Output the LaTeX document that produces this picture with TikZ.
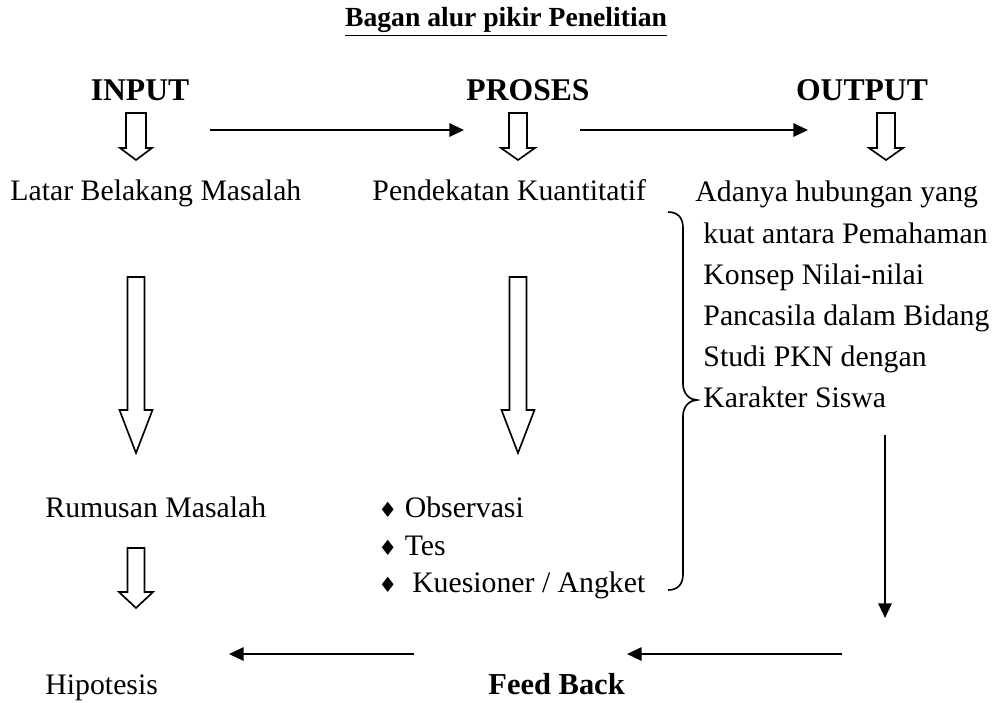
\documentclass[tikz,border=0pt]{standalone}
\usepackage{fontspec}
\setmainfont{Liberation Serif}
\newfontfamily\symfont{DejaVu Sans}
\usetikzlibrary{arrows.meta}

% hollow down arrow: x, top, head base, apex, half shaft, half head
\newcommand{\hollowdown}[6]{%
  \draw[hollow] (#1-#5,#2) -- (#1+#5,#2) -- (#1+#5,#3) -- (#1+#6,#3) -- (#1,#4)
    -- (#1-#6,#3) -- (#1-#5,#3) -- cycle;}
\newcommand{\bul}{{\symfont\fontsize{9}{9}\selectfont\char"2666}}

\begin{document}
\begin{tikzpicture}[
    x=0.015cm, y=-0.015cm,
    txt/.style={anchor=base west, inner sep=0pt, font=\fontsize{12.7}{15}\selectfont},
    hdr/.style={anchor=base, inner sep=0pt, font=\fontsize{13.5}{15}\selectfont\bfseries},
    hollow/.style={line width=0.7pt, fill=white},
    arrow/.style={-{Triangle[length=0.22cm, width=0.2cm]}, line width=0.9pt}
]
    \useasboundingbox (0,0) rectangle (995,702);

    % Title
    \node[hdr, font=\fontsize{11.8}{14}\selectfont\bfseries] (title) at (506,26) {\underline{Bagan alur pikir Penelitian}};

    % Headers
    \node[hdr] (input) at (140,100) {INPUT};
    \node[hdr] (proses) at (528,100) {PROSES};
    \node[hdr] (output) at (862,100) {OUTPUT};

    \hollowdown{136}{113}{148}{160}{10}{16}
    \hollowdown{518}{113}{148}{160}{9}{17}
    \hollowdown{886}{113}{148}{160}{9}{17}

    \coordinate (a1s) at (210,130);
    \coordinate (a1e) at (464,130);
    \coordinate (a2s) at (580,130);
    \coordinate (a2e) at (808,130);
    \draw[arrow] (a1s) -- (a1e);
    \draw[arrow] (a2s) -- (a2e);

    % Second row
    \node[txt] (latar) at (10,200) {Latar Belakang Masalah};
    \node[txt] (pendekatan) at (372,200) {Pendekatan Kuantitatif};
    \node[txt] (out1) at (695,201) {Adanya hubungan yang};
    \node[txt] (out2) at (703,243) {kuat antara Pemahaman};
    \node[txt] (out3) at (703,284) {Konsep Nilai-nilai};
    \node[txt] (out4) at (703,325) {Pancasila dalam Bidang};
    \node[txt] (out5) at (703,366) {Studi PKN dengan};
    \node[txt] (out6) at (703,407) {Karakter Siswa};

    \hollowdown{136}{277}{410}{453}{8.5}{16.5}
    \hollowdown{518}{277}{410}{453}{8.5}{16.5}

    % Third row
    \node[txt] (rumusan) at (45,517) {Rumusan Masalah};
    \node[txt] (obs) at (378,517) {\bul\ Observasi};
    \node[txt] (tes) at (378,555) {\bul\ Tes};
    \node[txt] (kues) at (378,592) {\bul\ \ Kuesioner / Angket};

    % brace
    \draw[line width=0.7pt] (668,212) .. controls (678,212) and (683,218) .. (683,228)
        -- (683,384) .. controls (683,394) and (690,400) .. (697,400)
        .. controls (690,400) and (683,406) .. (683,416)
        -- (683,574) .. controls (683,584) and (678,590) .. (668,590);

    \hollowdown{136}{548}{592}{608}{8.5}{17}

    % Feed back loop
    \coordinate (vtop) at (885,435);
    \coordinate (vend) at (885,618);
    \draw[arrow] (vtop) -- (vend);

    \node[txt] (hipotesis) at (45,694) {Hipotesis};
    \node[txt, font=\fontsize{13}{15}\selectfont\bfseries] (feedback) at (488,694) {Feed Back};

    \coordinate (b1s) at (842,654);
    \coordinate (b1e) at (627,654);
    \coordinate (b2s) at (414,654);
    \coordinate (b2e) at (229,654);
    \draw[arrow] (b1s) -- (b1e);
    \draw[arrow] (b2s) -- (b2e);

\end{tikzpicture}
\end{document}
